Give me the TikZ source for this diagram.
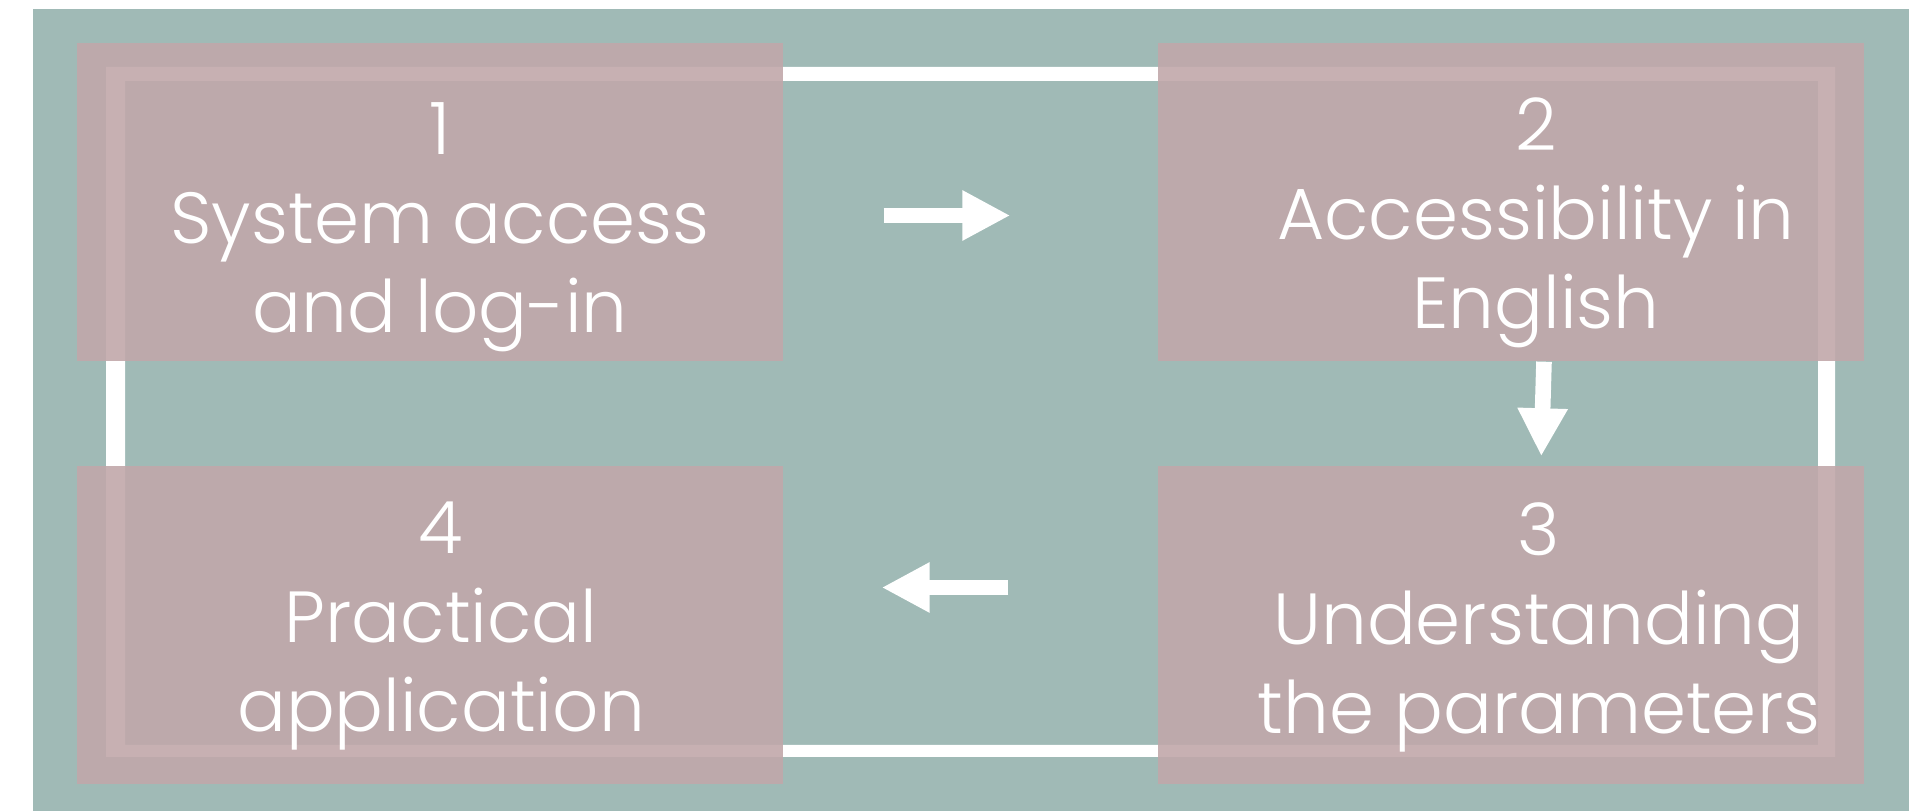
\documentclass[tikz,border=0pt]{standalone}
\usepackage{fontspec}
\setmainfont{Poppins Light}
\usetikzlibrary{arrows.meta}
\definecolor{tealbg}{RGB}{160,186,182}
\definecolor{rosebox}{RGB}{193,168,170}

\begin{document}
\begin{tikzpicture}[
    stepbox/.style={fill=rosebox, fill opacity=0.9, minimum width=7.06cm, minimum height=3.18cm, inner sep=0pt},
    steptext/.style={text=white, align=center, anchor=base, inner sep=0pt, font=\fontsize{20.6}{25.3}\selectfont},
    flow/.style={white, line width=1.56mm, -{Triangle[length=4.8mm,width=4.7mm]}}
  ]
  \useasboundingbox (0,0) rectangle (19.30,8.11);
  \fill[tealbg] (0.33,0) rectangle (19.09,8.02);
  % white frame behind the boxes
  \fill[white, even odd rule] (1.06,0.54) rectangle (18.35,7.44)
                              (1.25,0.66) rectangle (18.18,7.30);
  \node[stepbox] (box1) at (4.30,6.09) {};
  \node[stepbox] (box2) at (15.11,6.09) {};
  \node[stepbox] (box3) at (15.11,1.86) {};
  \node[stepbox] (box4) at (4.30,1.86) {};
  \node[steptext] (txt1) at ([shift={(0.10,-2.90)}]box1.north) {1\\System access\\and log-in};
  \node[steptext] (txt2) at ([shift={(0.25,-2.86)}]box2.north) {2\\Accessibility in\\English};
  \node[steptext] (txt3) at ([shift={(0.28,-2.68)}]box3.north) {3\\Understanding\\the parameters};
  \node[steptext] (txt4) at ([shift={(0.11,-2.66)}]box4.north) {4\\Practical\\application};
  % arrows between the steps
  \draw[flow, shorten <=1.00cm, shorten >=1.47cm] ([yshift=-1.35mm]box1.east) -- ([yshift=-1.35mm]box2.west);
  \draw[flow, shorten >=0.9mm] ([xshift=3.3mm]box2.south) -- ([xshift=3.0mm]box3.north);
  \draw[flow, shorten <=1.49cm, shorten >=0.98cm] ([yshift=3.75mm]box3.west) -- ([yshift=3.75mm]box4.east);
\end{tikzpicture}
\end{document}
